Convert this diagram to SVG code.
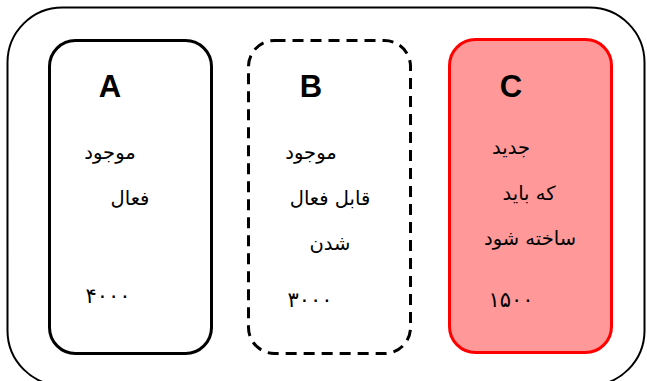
<svg xmlns="http://www.w3.org/2000/svg" width="647" height="381" viewBox="0 0 647 381">
<style>
.box{stroke-width:3;}
.lbl{font-family:"Liberation Sans",Arial,sans-serif;font-weight:bold;font-size:31px;fill:#000;text-anchor:middle;}
.fa{font-family:"DejaVu Sans","Noto Sans",sans-serif;font-size:19.5px;fill:#000;text-anchor:middle;}
.num{font-family:"DejaVu Sans","Noto Sans",sans-serif;font-size:21px;fill:#000;text-anchor:middle;}
</style>
<rect width="647" height="381" fill="#fff"/>
<g id="outer">
<rect x="7.5" y="7.5" width="637" height="378" rx="55" ry="55" fill="none" stroke="#000" stroke-width="2"/>
</g>
<g id="connectors"></g>
<g id="nodeA">
<rect class="box" x="49.5" y="40.5" width="162" height="313" rx="26" ry="26" fill="#fff" stroke="#000"/>
<text class="lbl" x="110" y="97">A</text>
<text class="fa" x="110" y="159">موجود</text>
<text class="fa" x="130" y="205">فعال</text>
<text class="num" x="108" y="303">۴۰۰۰</text>
</g>
<g id="nodeB">
<rect class="box" x="248.5" y="40.5" width="162" height="313" rx="26" ry="26" fill="#fff" stroke="#000" stroke-dasharray="11,7"/>
<text class="lbl" x="311" y="97">B</text>
<text class="fa" x="311" y="159">موجود</text>
<text class="fa" x="330" y="205">قابل فعال</text>
<text class="fa" x="330" y="250">شدن</text>
<text class="num" x="310" y="307">۳۰۰۰</text>
</g>
<g id="nodeC">
<rect class="box" x="449.5" y="39.5" width="162" height="313" rx="26" ry="26" fill="#FF9999" stroke="#FF0000"/>
<text class="lbl" x="511" y="97">C</text>
<text class="fa" x="511" y="154">جدید</text>
<text class="fa" x="529" y="200">که باید</text>
<text class="fa" x="530" y="245">ساخته شود</text>
<text class="num" x="511" y="307">۱۵۰۰</text>
</g>
</svg>
